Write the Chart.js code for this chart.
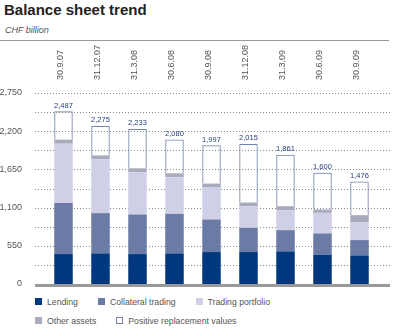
<!DOCTYPE html>
<html>
<head>
<meta charset="utf-8">
<script src="https://cdn.jsdelivr.net/npm/chart.js@4.4.0/dist/chart.umd.min.js"></script>
<style>
  body { margin: 0; width: 400px; height: 332px; background: #fff; position: relative; overflow: hidden;
         font-family: "Liberation Sans", Arial, sans-serif; }
  #title { position: absolute; left: 4px; top: 2px; font-size: 15px; line-height: 15px; font-weight: bold; color: #222; }
  #subtitle { position: absolute; left: 5px; top: 25px; font-size: 9px; line-height: 10px; font-style: italic; color: #555; }
  #rule { position: absolute; left: 0; top: 40px; width: 389px; height: 1px; background: #9a9a9a; }
  #chartBox { position: absolute; left: 0; top: 0; width: 400px; height: 290px; }
  #legend { position: absolute; left: 35px; top: 292px; font-size: 8.7px; color: #555; }
  .legend-row { display: flex; height: 19px; align-items: center; }
  .legend-item { display: flex; align-items: center; margin-right: 20px; }
  .legend-box { width: 7px; height: 7px; margin-right: 5px; box-sizing: border-box; }
</style>
</head>
<body>
<div id="title">Balance sheet trend</div>
<div id="subtitle">CHF billion</div>
<div id="rule"></div>
<div id="chartBox"><canvas id="myChart" width="400" height="290"></canvas></div>
<div id="legend"></div>

<script>
/* data (CHF billion) */
const dates = ["30.9.07", "31.12.07", "31.3.08", "30.6.08", "30.9.08", "31.12.08", "31.3.09", "30.6.09", "30.9.09"];
const lending = [431, 441, 431, 441, 460, 460, 470, 421, 412];
const collateralTrading = [736, 579, 570, 569, 469, 349, 305, 307, 220];
const tradingPortfolio = [853, 775, 607, 527, 460, 311, 288, 296, 254];
const otherAssets = [58, 57, 58, 57, 57, 53, 57, 49, 105];
const replacementValues = [409, 423, 567, 486, 551, 842, 741, 527, 485];
const totals = [2487, 2275, 2233, 2080, 1997, 2015, 1861, 1600, 1476];

const yMax = 2750;
const gridStep = 275;
const labelStep = 550;

const fmt = (v) => v.toLocaleString("en-US");

/* dotted grid across the full width + heavy zero line */
const gridPlugin = {
  id: "gridPlugin",
  beforeDatasetsDraw(chart) {
    const { ctx } = chart;
    const y = chart.scales.y;
    ctx.save();
    ctx.strokeStyle = "#8c8c8c";
    ctx.lineWidth = 1;
    ctx.setLineDash([1, 2]);
    for (let v = gridStep; v <= yMax; v += gridStep) {
      const py = Math.round(y.getPixelForValue(v)) + 0.5;
      ctx.beginPath();
      ctx.moveTo(35, py);
      ctx.lineTo(390, py);
      ctx.stroke();
    }
    ctx.restore();
  },
  afterDatasetsDraw(chart) {
    const { ctx } = chart;
    const py = chart.scales.y.getPixelForValue(0);
    ctx.save();
    ctx.strokeStyle = "#999";
    ctx.lineWidth = 3;
    ctx.beginPath();
    ctx.moveTo(35, py + 1.5);
    ctx.lineTo(390, py + 1.5);
    ctx.stroke();

    /* totals above each bar */
    const meta = chart.getDatasetMeta(chart.data.datasets.length - 1);
    ctx.fillStyle = "#27407f";
    ctx.font = "7.5px 'Liberation Sans', Arial, sans-serif";
    ctx.textAlign = "center";
    ctx.textBaseline = "bottom";
    meta.data.forEach((bar, i) => {
      ctx.fillText(fmt(totals[i]), bar.x, bar.y - 2);
    });
    ctx.restore();
  },
};

const barOpts = { stack: "s", categoryPercentage: 1, barPercentage: 0.5, borderWidth: 0 };

const chart = new Chart(document.getElementById("myChart"), {
  type: "bar",
  data: {
    labels: dates,
    datasets: [
      { ...barOpts, label: "Lending", data: lending, backgroundColor: "#00377f" },
      { ...barOpts, label: "Collateral trading", data: collateralTrading, backgroundColor: "#6b7ba6" },
      { ...barOpts, label: "Trading portfolio", data: tradingPortfolio, backgroundColor: "#cfd0e8" },
      { ...barOpts, label: "Other assets", data: otherAssets, backgroundColor: "#a9abbc" },
      {
        ...barOpts,
        label: "Positive replacement values",
        data: replacementValues,
        backgroundColor: "rgba(255,255,255,0)",
        borderColor: "#7282ab",
        borderWidth: 1,
      },
    ],
  },
  options: {
    responsive: false,
    animation: false,
    layout: { padding: { left: 0, right: 22, top: 0, bottom: 6 } },
    plugins: {
      legend: { display: false },
      tooltip: { enabled: false },
    },
    scales: {
      x: {
        position: "top",
        stacked: true,
        grid: { display: false, drawTicks: false },
        border: { display: false },
        ticks: {
          minRotation: 90,
          maxRotation: 90,
          padding: 13,
          labelOffset: 8,
          color: "#555",
          font: { family: "'Liberation Sans', Arial, sans-serif", size: 9 },
        },
        afterFit: (scale) => { scale.height = 93; },
      },
      y: {
        stacked: true,
        min: 0,
        max: yMax,
        grid: { display: false, drawTicks: false },
        border: { display: false },
        ticks: {
          stepSize: gridStep,
          autoSkip: false,
          padding: 23,
          color: "#555",
          font: { family: "'Liberation Sans', Arial, sans-serif", size: 9 },
          callback: (v) => (v % labelStep === 0 ? fmt(v) : ""),
        },
        afterFit: (scale) => {
          scale.width = 45;
          scale.paddingTop = 0;
          scale.paddingBottom = 0;
        },
      },
    },
  },
  plugins: [gridPlugin],
});

/* html legend built from the datasets */
const legendEl = document.getElementById("legend");
const legendRows = [[0, 1, 2], [3, 4]];
legendRows.forEach((row) => {
  const rowEl = document.createElement("div");
  rowEl.className = "legend-row";
  row.forEach((i) => {
    const ds = chart.data.datasets[i];
    const item = document.createElement("div");
    item.className = "legend-item";
    const box = document.createElement("span");
    box.className = "legend-box";
    box.style.background = ds.borderWidth ? "#fff" : ds.backgroundColor;
    if (ds.borderWidth) box.style.border = "1px solid " + ds.borderColor;
    const text = document.createElement("span");
    text.textContent = ds.label;
    item.appendChild(box);
    item.appendChild(text);
    rowEl.appendChild(item);
  });
  legendEl.appendChild(rowEl);
});
</script>
</body>
</html>
